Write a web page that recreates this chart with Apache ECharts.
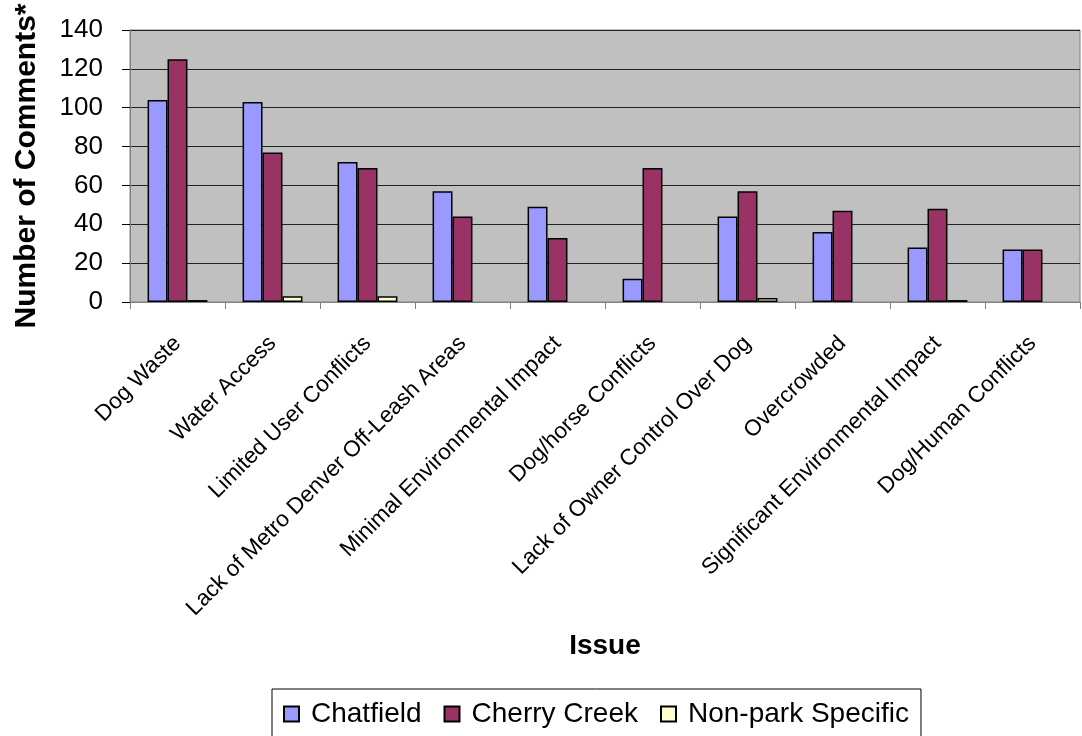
<!DOCTYPE html>
<html>
<head>
<meta charset="utf-8">
<script src="https://cdn.jsdelivr.net/npm/echarts@6/dist/echarts.min.js"></script>
<style>
  html, body { margin: 0; padding: 0; background: #fff; }
  #chart { width: 1082px; height: 736px; }
</style>
</head>
<body>
<div id="chart"></div>
<script>
var issues = ['Dog Waste', 'Water Access', 'Limited User Conflicts', 'Lack of Metro Denver Off-Leash Areas',
  'Minimal Environmental Impact', 'Dog/horse Conflicts', 'Lack of Owner Control Over Dog',
  'Overcrowded', 'Significant Environmental Impact', 'Dog/Human Conflicts'];
var chatfield    = [104, 103, 72, 57, 49, 12, 44, 36, 28, 27];
var cherryCreek  = [125, 77, 69, 44, 33, 69, 57, 47, 48, 27];
var nonPark      = [1, 3, 3, 0, 0, 0, 2, 0, 1, 0];

var font = 'Liberation Sans, Arial, sans-serif';

var myChart = echarts.init(document.getElementById('chart'));

// zero-height bars are not drawn in the original, so hide them
function barSeries(name, data, color) {
  return {
    name: name,
    type: 'bar',
    data: data.map(function (v) { return v === 0 ? null : v; }),
    barGap: '0%',
    barCategoryGap: '37%',
    itemStyle: { color: color, borderColor: '#000', borderWidth: 1.5 }
  };
}

var option = {
  animation: false,
  textStyle: { fontFamily: font },
  grid: {
    left: 130, right: 2, top: 30, bottom: 434,
    show: true,
    backgroundColor: '#C0C0C0',
    borderColor: '#808080',
    borderWidth: 1
  },
  legend: {
    left: 272, top: 689,
    padding: [11, 12, 30, 11],
    borderColor: '#000',
    borderWidth: 1,
    icon: 'rect',
    itemWidth: 15, itemHeight: 15,
    itemGap: 22,
    textStyle: { fontSize: 28, color: '#000', fontFamily: font, padding: [0, 0, 0, 7] },
    data: ['Chatfield', 'Cherry Creek', 'Non-park Specific']
  },
  xAxis: {
    type: 'category',
    data: issues,
    name: 'Issue',
    nameLocation: 'middle',
    nameGap: 330,
    nameTextStyle: { fontSize: 28, fontWeight: 'bold', color: '#000' },
    axisLine: { lineStyle: { color: '#808080', width: 1 } },
    axisTick: { show: true, length: 7, lineStyle: { color: '#808080' } },
    axisLabel: { interval: 0, rotate: 45, margin: 38, fontSize: 22.5, color: '#000' }
  },
  yAxis: {
    type: 'value',
    min: 0, max: 140, interval: 20,
    name: 'Number of Comments*',
    nameLocation: 'middle',
    nameGap: 88,
    nameTextStyle: { fontSize: 30, fontWeight: 'bold', color: '#000' },
    axisLine: { show: true, lineStyle: { color: '#808080', width: 1 } },
    axisTick: { show: true, length: 8, lineStyle: { color: '#000' } },
    axisLabel: { margin: 27, fontSize: 26, color: '#000' },
    splitLine: { lineStyle: { color: '#222', width: 1 } }
  },
  series: [
    barSeries('Chatfield', chatfield, '#9999FF'),
    barSeries('Cherry Creek', cherryCreek, '#993366'),
    barSeries('Non-park Specific', nonPark, '#FFFFCC')
  ]
};

myChart.setOption(option);
</script>
</body>
</html>
